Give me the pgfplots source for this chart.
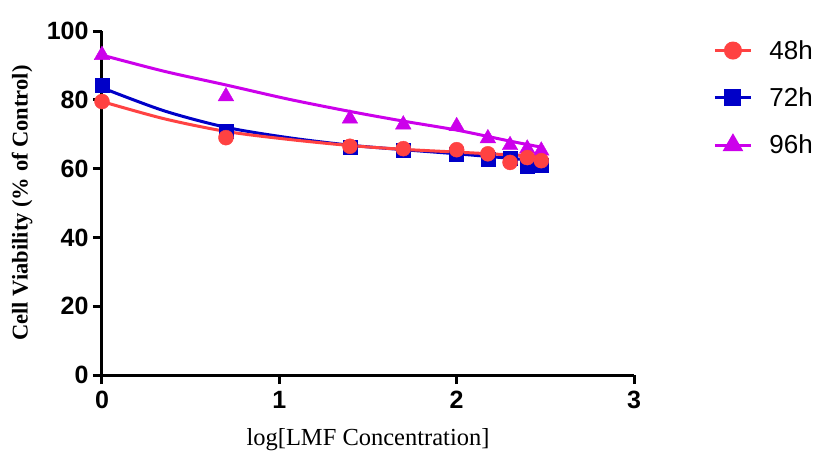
\documentclass[border=0pt]{standalone}
\usepackage{pgfplots}
\pgfplotsset{compat=1.18}
\usepackage{fontspec}
\setmainfont{Liberation Sans}
\newfontfamily\timesfont{Liberation Serif}
\definecolor{c48}{RGB}{255,66,66}
\definecolor{c72}{RGB}{0,0,200}
\definecolor{c96}{RGB}{204,0,235}
\begin{document}
\begin{tikzpicture}
\useasboundingbox (-102pt,-81pt) rectangle (716pt,375pt);
\begin{axis}[
  at={(0pt,0pt)}, anchor=origin,
  scale only axis, width=532pt, height=344pt,
  xmin=0, xmax=3, ymin=0, ymax=100,
  clip=false,
  axis x line=bottom, axis y line=left,
  axis line style={-, line width=3pt, black},
  xtick={0,1,2,3}, ytick={0,20,40,60,80,100},
  tick align=outside, major tick length=9pt,
  tick style={line width=3pt, black},
  /pgf/number format/assume math mode=true,
  tick label style={font=\bfseries\fontsize{25}{25}\selectfont},
  yticklabel style={xshift=-1pt},
  xticklabel style={yshift=-4pt},
  xlabel={log[LMF Concentration]},
  xlabel style={at={(axis description cs:0.5,-0.189)}, anchor=center, font=\timesfont\fontsize{24.5}{24.5}\selectfont},
  ylabel={Cell Viability (\% of Control)},
  ylabel style={at={(axis description cs:-0.150,0.5)}, anchor=center, rotate=0, font=\timesfont\bfseries\fontsize{22.5}{22.5}\selectfont},
  legend style={at={(axis cs:3.43,98.5)}, anchor=north west, draw=none, fill=none,
    font=\fontsize{26}{26}\selectfont, row sep=23pt,
    /tikz/every odd column/.style={column sep=15pt}},
  legend cell align=left,
  legend image code/.code={\draw[mark repeat=2,mark phase=2] plot coordinates {(0pt,0pt)(18pt,0pt)(36pt,0pt)};},
]
\addlegendimage{c48, line width=3pt, mark=*, mark size=7.5pt}
\addlegendentry{48h}
\addlegendimage{c72, line width=3pt, mark=square*, mark size=7pt}
\addlegendentry{72h}
\addlegendimage{c96, line width=3pt, mark=triangle*, mark size=9pt}
\addlegendentry{96h}
% fitted curves
\addplot[c96, line width=3pt, smooth, no marks, forget plot] coordinates {
(0,93)(0.35,88.3)(0.7,84.3)(1.05,80.2)(1.4,76.6)(1.7,73.8)(2.0,71.2)(2.3,68.0)(2.48,66.2)};
\addplot[c72, line width=3pt, smooth, no marks, forget plot] coordinates {
(0,83.5)(0.35,76.8)(0.7,72.0)(1.05,69.0)(1.4,66.8)(1.7,65.5)(2.0,64.3)(2.3,63.0)(2.48,62.2)};
\addplot[c48, line width=3pt, smooth, no marks, forget plot] coordinates {
(0,79.5)(0.35,74.5)(0.7,70.8)(1.05,68.5)(1.4,66.7)(1.7,65.6)(2.0,64.8)(2.3,64.0)(2.48,63.6)};
% data points
\addplot[only marks, c96, mark=triangle*, mark size=9pt, forget plot] coordinates {
(0,93)(0.699,81)(1.398,74.5)(1.699,72.8)(2,72.3)(2.176,68.8)(2.301,66.8)(2.398,65.8)(2.477,65.2)};
\addplot[only marks, c72, mark=square*, mark size=7pt, forget plot] coordinates {
(0,84.2)(0.699,71)(1.398,66.3)(1.699,65.3)(2,64.3)(2.176,62.8)(2.301,63)(2.398,60.8)(2.477,61)};
\addplot[only marks, c48, mark=*, mark size=7.5pt, forget plot] coordinates {
(0,79.5)(0.699,69)(1.398,66.5)(1.699,65.8)(2,65.5)(2.176,64.3)(2.301,61.8)(2.398,63.2)(2.477,62.3)};
\end{axis}
\end{tikzpicture}
\end{document}
